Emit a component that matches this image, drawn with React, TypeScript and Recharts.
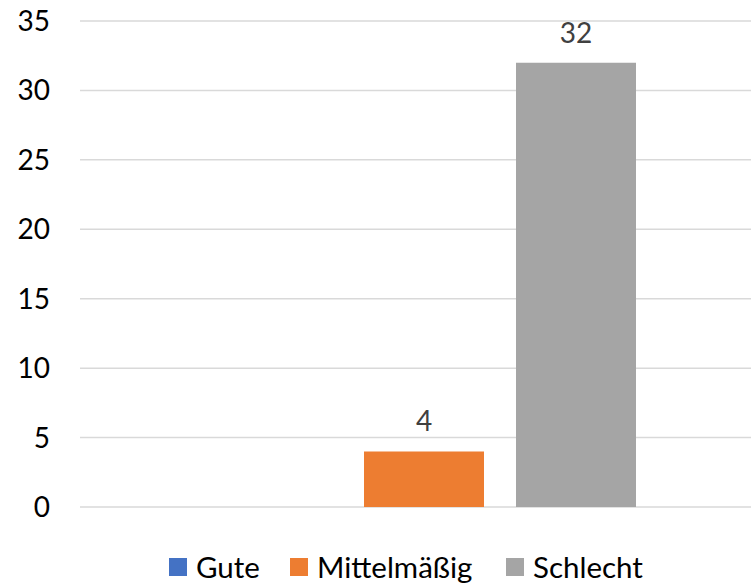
import { Bar, BarChart, CartesianGrid, LabelList, XAxis, YAxis } from "recharts";

// Chart values
const categories = [""];
const seriesNames = ["Gute", "Mittelmäßig", "Schlecht"];
const seriesColors = ["#4472C4", "#ED7D31", "#A5A5A5"];
const guteValues: (number | null)[] = [null];
const mittelValues: (number | null)[] = [4];
const schlechtValues: (number | null)[] = [32];
const yTicks = [0, 5, 10, 15, 20, 25, 30, 35];

const seriesValues = [guteValues, mittelValues, schlechtValues];

const data = categories.map((cat, i) => {
  const row: Record<string, string | number | null> = { category: cat };
  seriesNames.forEach((name, s) => {
    row[name] = seriesValues[s][i];
  });
  return row;
});

const FONT = "Lato, 'Open Sans', sans-serif";
// legend item widths (square + text + gap), like Excel's spacing
const legendItemWidths = [121, 216, 140];

export default function App() {
  return (
    <div
      style={{
        position: "fixed",
        left: 0,
        top: 0,
        width: 751,
        height: 583,
        overflow: "hidden",
        background: "#fff",
        fontFamily: FONT,
      }}
    >
      <BarChart
        width={800}
        height={583}
        data={data}
        margin={{ top: 21, right: 32, bottom: 76, left: 0 }}
        barCategoryGap={132}
        barGap={32}
      >
        {/* horizontal gridlines only */}
        <CartesianGrid vertical={false} stroke="#D9D9D9" strokeWidth={1.5} />
        <XAxis dataKey="category" hide />
        <YAxis
          width={80}
          domain={[0, 35]}
          ticks={yTicks}
          axisLine={false}
          tickLine={false}
          tickSize={0}
          tickMargin={30}
          tick={{ fill: "#000", fontSize: 28, fontFamily: FONT }}
        />
        {seriesNames.map((name, s) => (
          <Bar key={name} dataKey={name} fill={seriesColors[s]} isAnimationActive={false}>
            <LabelList
              dataKey={name}
              position="top"
              offset={20}
              fill="#404040"
              fontSize={28}
              fontFamily={FONT}
            />
          </Bar>
        ))}
      </BarChart>
      {/* legend */}
      <div
        style={{
          position: "absolute",
          left: 169,
          top: 547,
          display: "flex",
          alignItems: "center",
          fontSize: 29.5,
          color: "#000",
          lineHeight: "40px",
          whiteSpace: "nowrap",
        }}
      >
        {seriesNames.map((name, s) => (
          <div key={name} style={{ display: "flex", alignItems: "center", width: legendItemWidths[s] }}>
            <span
              style={{
                display: "inline-block",
                width: 18,
                height: 18,
                background: seriesColors[s],
                marginRight: 9,
              }}
            />
            <span>{name}</span>
          </div>
        ))}
      </div>
    </div>
  );
}
